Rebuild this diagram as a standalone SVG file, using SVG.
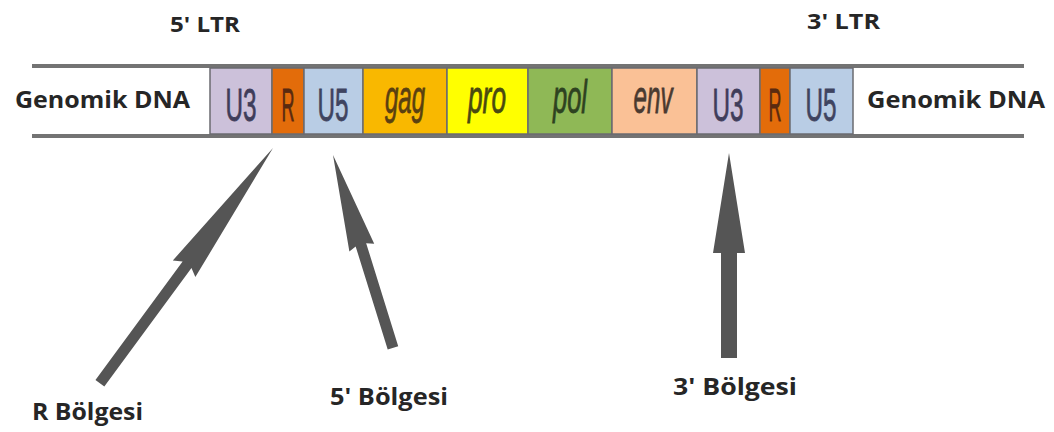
<svg xmlns="http://www.w3.org/2000/svg" width="1054" height="432" viewBox="0 0 1054 432">
  <style>
    .lbl { font-family: "Open Sans", Lato, "Liberation Sans", sans-serif; font-weight: bold; fill: #262626; }
    .seg { stroke: #6b6b70; stroke-width: 1.5; }
    .segtxt { font-family: "Liberation Sans", Arial, sans-serif; font-size: 46px; text-anchor: middle; stroke-width: 0.8; }
    .gene { font-style: italic; }
    .strand { stroke: #737373; stroke-width: 4; fill: none; }
    .arrow { fill: #555555; }
  </style>

  <rect width="1054" height="432" fill="#ffffff"/>

  <!-- LTR titles -->
  <text class="lbl" x="170" y="32" font-size="22" textLength="70" lengthAdjust="spacingAndGlyphs">5' LTR</text>
  <text class="lbl" x="807" y="29" font-size="22" textLength="73" lengthAdjust="spacingAndGlyphs">3' LTR</text>

  <!-- host DNA strands -->
  <g id="strand">
    <line class="strand" x1="32" y1="66" x2="1024" y2="66"/>
    <line class="strand" x1="32" y1="136" x2="1024" y2="136"/>
    <text class="lbl" x="15" y="108" font-size="23" textLength="175" lengthAdjust="spacingAndGlyphs">Genomik DNA</text>
    <text class="lbl" x="867" y="108" font-size="23" textLength="178" lengthAdjust="spacingAndGlyphs">Genomik DNA</text>
  </g>

  <!-- provirus segments -->
  <g id="u3-5">
    <rect class="seg" x="210" y="68" width="62" height="66" fill="#ccc1da"/>
    <text class="segtxt" x="241" y="121" textLength="31" lengthAdjust="spacingAndGlyphs" fill="#3f3d5a" stroke="#3f3d5a">U3</text>
  </g>
  <g id="r-5">
    <rect class="seg" x="272" y="68" width="32" height="66" fill="#e36c0a"/>
    <text class="segtxt" x="288" y="121" textLength="13" lengthAdjust="spacingAndGlyphs" fill="#5a2a10" stroke="#5a2a10">R</text>
  </g>
  <g id="u5-5">
    <rect class="seg" x="304" y="68" width="59" height="66" fill="#b9cde5"/>
    <text class="segtxt" x="333" y="121" textLength="31" lengthAdjust="spacingAndGlyphs" fill="#3f4460" stroke="#3f4460">U5</text>
  </g>
  <g id="gag">
    <rect class="seg" x="363" y="68" width="84" height="66" fill="#f9b800"/>
    <text class="segtxt gene" x="405" y="113" textLength="40" lengthAdjust="spacingAndGlyphs" fill="#5a4010" stroke="#5a4010">gag</text>
  </g>
  <g id="pro">
    <rect class="seg" x="447" y="68" width="81" height="66" fill="#ffff00"/>
    <text class="segtxt gene" x="487" y="113" textLength="38" lengthAdjust="spacingAndGlyphs" fill="#4a4a10" stroke="#4a4a10">pro</text>
  </g>
  <g id="pol">
    <rect class="seg" x="528" y="68" width="84" height="66" fill="#8fb856"/>
    <text class="segtxt gene" x="570" y="113" textLength="34" lengthAdjust="spacingAndGlyphs" fill="#2e4220" stroke="#2e4220">pol</text>
  </g>
  <g id="env">
    <rect class="seg" x="612" y="68" width="85" height="66" fill="#fac196"/>
    <text class="segtxt gene" x="653" y="113" textLength="39" lengthAdjust="spacingAndGlyphs" fill="#4a3a30" stroke="#4a3a30">env</text>
  </g>
  <g id="u3-3">
    <rect class="seg" x="697" y="68" width="63" height="66" fill="#ccc1da"/>
    <text class="segtxt" x="728" y="121" textLength="31" lengthAdjust="spacingAndGlyphs" fill="#3f3d5a" stroke="#3f3d5a">U3</text>
  </g>
  <g id="r-3">
    <rect class="seg" x="760" y="68" width="30" height="66" fill="#e36c0a"/>
    <text class="segtxt" x="775" y="121" textLength="13" lengthAdjust="spacingAndGlyphs" fill="#5a2a10" stroke="#5a2a10">R</text>
  </g>
  <g id="u5-3">
    <rect class="seg" x="790" y="68" width="63" height="66" fill="#b9cde5"/>
    <text class="segtxt" x="821" y="121" textLength="31" lengthAdjust="spacingAndGlyphs" fill="#3f4460" stroke="#3f4460">U5</text>
  </g>

  <!-- pointer arrows: each drawn along +x with the tip at the origin -->
  <g id="connectors">
    <!-- R region: tail (100,383) to tip (273,148) -->
    <g transform="translate(273,148) rotate(-53.64)">
      <path class="arrow" d="M0,0 L-150,-14 L-145,-5.5 L-292,-5.5 L-292,5.5 L-145,5.5 L-150,14 Z"/>
    </g>
    <!-- 5' region: tail (393,348) to tip (333,155) -->
    <g transform="translate(333,155) rotate(-107.27)">
      <path class="arrow" d="M0,0 L-97,-13 L-94,-5.5 L-202,-5.5 L-202,5.5 L-94,5.5 L-97,13 Z"/>
    </g>
    <!-- 3' region: tail (729,358) to tip (729,153) -->
    <path class="arrow" d="M729,153 L745,253 L737,253 L737,358 L721,358 L721,253 L713,253 Z"/>
  </g>

  <!-- region labels -->
  <g id="labels">
    <text class="lbl" x="32" y="420" font-size="23" textLength="111" lengthAdjust="spacingAndGlyphs">R Bölgesi</text>
    <text class="lbl" x="330" y="405" font-size="23" textLength="118" lengthAdjust="spacingAndGlyphs">5' Bölgesi</text>
    <text class="lbl" x="673" y="395" font-size="23" textLength="124" lengthAdjust="spacingAndGlyphs">3' Bölgesi</text>
  </g>
</svg>
